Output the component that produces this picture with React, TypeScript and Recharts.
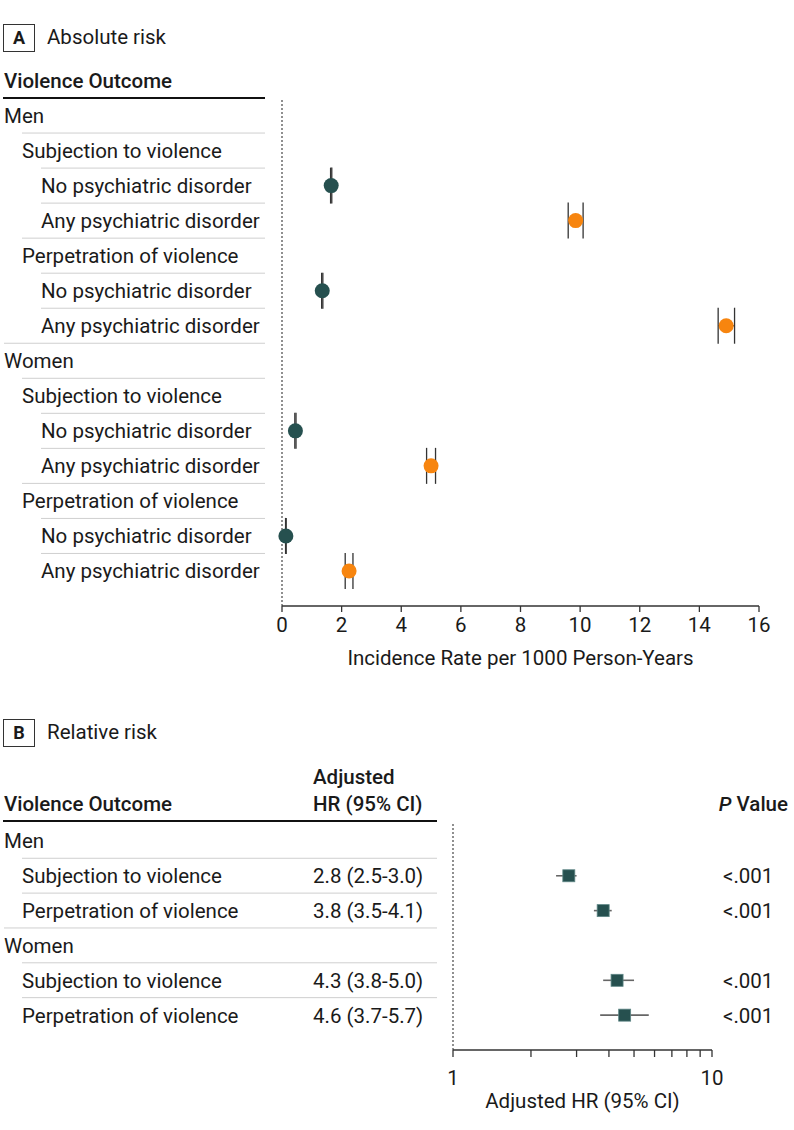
import React from "react"
import { ScatterChart, Scatter, XAxis, YAxis, ErrorBar, ReferenceLine } from "recharts"

// Panel A: absolute risk (incidence per 1000 person-years)
const outcomeLabelsA = [
  "Men",
  "Subjection to violence",
  "No psychiatric disorder",
  "Any psychiatric disorder",
  "Perpetration of violence",
  "No psychiatric disorder",
  "Any psychiatric disorder",
  "Women",
  "Subjection to violence",
  "No psychiatric disorder",
  "Any psychiatric disorder",
  "Perpetration of violence",
  "No psychiatric disorder",
  "Any psychiatric disorder",
]
const outcomeLevelsA = [0, 1, 2, 2, 1, 2, 2, 0, 1, 2, 2, 1, 2, 2]

const noDisorderRows = [2, 5, 9, 12]
const noDisorderRate = [1.65, 1.35, 0.45, 0.13]
const noDisorderLow = [1.63, 1.33, 0.43, 0.12]
const noDisorderHigh = [1.67, 1.37, 0.47, 0.14]

const anyDisorderRows = [3, 6, 10, 13]
const anyDisorderRate = [9.85, 14.9, 5.0, 2.25]
const anyDisorderLow = [9.6, 14.63, 4.85, 2.12]
const anyDisorderHigh = [10.1, 15.18, 5.15, 2.38]

const rateTicks = [0, 2, 4, 6, 8, 10, 12, 14, 16]

// Panel B: relative risk (adjusted HR)
const outcomeLabelsB = [
  "Men",
  "Subjection to violence",
  "Perpetration of violence",
  "Women",
  "Subjection to violence",
  "Perpetration of violence",
]
const outcomeLevelsB = [0, 1, 1, 0, 1, 1]
const hrRows = [1, 2, 4, 5]
const hrValues = [2.8, 3.8, 4.3, 4.6]
const hrLower = [2.5, 3.5, 3.8, 3.7]
const hrUpper = [3.0, 4.1, 5.0, 5.7]
const pValues = ["<.001", "<.001", "<.001", "<.001"]
const hrTicks = [1, 2, 3, 4, 5, 6, 7, 8, 9, 10]

const FONT = "Roboto, 'Noto Sans', sans-serif"
const FS = 20.5
const TEXT = "#1a1a1a"
const TEAL = "#26504f"
const ORANGE = "#f7850f"
const INDENT = [4, 22, 41]

const toPoints = (rows: number[], vals: number[], lo: number[], hi: number[]) =>
  rows.map((r, i) => ({ row: r, value: vals[i], err: [vals[i] - lo[i], hi[i] - vals[i]] }))

const noDisorderData = toPoints(noDisorderRows, noDisorderRate, noDisorderLow, noDisorderHigh)
const anyDisorderData = toPoints(anyDisorderRows, anyDisorderRate, anyDisorderLow, anyDisorderHigh)
const hrData = toPoints(hrRows, hrValues, hrLower, hrUpper)

function OutcomeTickA(props: any) {
  const { y, payload } = props
  const i = payload.value
  const x0 = INDENT[outcomeLevelsA[i]]
  return (
    <g>
      {i > 0 && <line x1={x0} x2={265} y1={y - 17.5} y2={y - 17.5} stroke="#cfcfcf" strokeWidth={1} />}
      <text x={x0} y={y} dy="0.36em" fontSize={FS} fill={TEXT}>
        {outcomeLabelsA[i]}
      </text>
    </g>
  )
}

function OutcomeTickB(props: any) {
  const { y, payload } = props
  const i = payload.value
  const x0 = INDENT[outcomeLevelsB[i]]
  const k = hrRows.indexOf(i)
  return (
    <g>
      {i > 0 && <line x1={x0} x2={437} y1={y - 17.5} y2={y - 17.5} stroke="#cfcfcf" strokeWidth={1} />}
      <text x={x0} y={y} dy="0.36em" fontSize={FS} fill={TEXT}>
        {outcomeLabelsB[i]}
      </text>
      {k >= 0 && (
        <text x={313} y={y} dy="0.36em" fontSize={FS} fill={TEXT}>
          {`${hrValues[k].toFixed(1)} (${hrLower[k].toFixed(1)}-${hrUpper[k].toFixed(1)})`}
        </text>
      )}
      {k >= 0 && (
        <text x={723} y={y} dy="0.36em" fontSize={FS} fill={TEXT}>
          {pValues[k]}
        </text>
      )}
    </g>
  )
}

const dot = (color: string) => (p: any) => <circle cx={p.cx} cy={p.cy} r={7.5} fill={color} />
const square = (p: any) => (
  <rect x={p.cx - 6} y={p.cy - 6} width={12} height={12} fill={TEAL} stroke="#5f8786" strokeWidth={0.8} />
)

function PanelTag({ letter, title, top }: { letter: string; title: string; top: number }) {
  return (
    <>
      <div
        style={{
          position: "absolute",
          left: 3,
          top,
          width: 30,
          height: 26,
          border: "1px solid #333",
          fontWeight: 700,
          fontSize: 18,
          lineHeight: "26px",
          textAlign: "center",
        }}
      >
        {letter}
      </div>
      <div style={{ position: "absolute", left: 47, top: top - 1, fontSize: 20.5, lineHeight: "28px" }}>{title}</div>
    </>
  )
}

const abs = (left: number, top: number, extra: React.CSSProperties = {}): React.CSSProperties => ({
  position: "absolute",
  left,
  top,
  fontSize: FS,
  lineHeight: "24px",
  whiteSpace: "nowrap",
  ...extra,
})

export default function App() {
  return (
    <div
      style={{
        position: "absolute",
        left: 0,
        top: 0,
        width: 794,
        height: 1130,
        background: "#fff",
        fontFamily: FONT,
        color: TEXT,
        overflow: "hidden",
      }}
    >
      <PanelTag letter="A" title="Absolute risk" top={24} />
      <div style={abs(4, 69, { fontWeight: 500 })}>Violence Outcome</div>
      <div style={{ position: "absolute", left: 3, top: 97, width: 262, height: 2, background: "#111" }} />

      <div style={{ position: "absolute", left: 0, top: 0 }}>
        <ScatterChart width={794} height={700} margin={{ top: 98, right: 35, bottom: 0, left: 0 }}>
          <XAxis
            type="number"
            dataKey="value"
            domain={[0, 16]}
            ticks={rateTicks}
            interval={0}
            height={94}
            tickSize={6}
            tickMargin={5}
            tick={{ fontSize: FS, fill: TEXT }}
            axisLine={{ stroke: "#333", strokeWidth: 1.3 }}
            tickLine={{ stroke: "#333", strokeWidth: 1.3 }}
            label={{
              value: "Incidence Rate per 1000 Person-Years",
              position: "insideTop",
              offset: 44,
              fontSize: FS,
              fill: TEXT,
            }}
          />
          <YAxis
            type="number"
            dataKey="row"
            domain={[-0.5, 14]}
            reversed
            ticks={outcomeLabelsA.map((_, i) => i)}
            interval={0}
            width={282}
            axisLine={false}
            tickLine={false}
            tick={<OutcomeTickA />}
          />
          <ReferenceLine x={0} stroke="#555" strokeDasharray="2 2" strokeWidth={1.3} />
          <Scatter data={noDisorderData} shape={dot(TEAL)} isAnimationActive={false}>
            <ErrorBar dataKey="err" direction="x" width={18} stroke="#333" strokeWidth={1.3} />
          </Scatter>
          <Scatter data={anyDisorderData} shape={dot(ORANGE)} isAnimationActive={false}>
            <ErrorBar dataKey="err" direction="x" width={18} stroke="#333" strokeWidth={1.3} />
          </Scatter>
        </ScatterChart>
      </div>

      <PanelTag letter="B" title="Relative risk" top={719} />
      <div style={abs(313, 765, { fontWeight: 500 })}>Adjusted</div>
      <div style={abs(4, 792, { fontWeight: 500 })}>Violence Outcome</div>
      <div style={abs(313, 792, { fontWeight: 500 })}>HR (95% CI)</div>
      <div style={{ ...abs(0, 792, { fontWeight: 500 }), left: undefined, right: 6, textAlign: "right" }}>
        <span style={{ fontStyle: "italic" }}>P</span> Value
      </div>
      <div style={{ position: "absolute", left: 3, top: 820, width: 434, height: 2, background: "#111" }} />

      <div style={{ position: "absolute", left: 0, top: 720 }}>
        <ScatterChart width={794} height={410} margin={{ top: 103.5, right: 82, bottom: 0, left: 0 }}>
          <XAxis
            type="number"
            dataKey="value"
            scale="log"
            domain={[1, 10]}
            ticks={hrTicks}
            interval={0}
            allowDataOverflow
            height={80}
            tickSize={7}
            tickMargin={13}
            tickFormatter={(v: number) => (v === 1 || v === 10 ? String(v) : "")}
            tick={{ fontSize: FS, fill: TEXT }}
            axisLine={{ stroke: "#333", strokeWidth: 1.3 }}
            tickLine={{ stroke: "#333", strokeWidth: 1.3 }}
            label={{ value: "Adjusted HR (95% CI)", position: "insideTop", offset: 43, fontSize: FS, fill: TEXT }}
          />
          <YAxis
            type="number"
            dataKey="row"
            domain={[-0.5, 6]}
            reversed
            ticks={outcomeLabelsB.map((_, i) => i)}
            interval={0}
            width={453}
            axisLine={false}
            tickLine={false}
            tick={<OutcomeTickB />}
          />
          <ReferenceLine x={1} stroke="#555" strokeDasharray="2 2" strokeWidth={1.3} />
          <Scatter data={hrData} shape={square} isAnimationActive={false}>
            <ErrorBar dataKey="err" direction="x" width={0} stroke="#666" strokeWidth={1.6} />
          </Scatter>
        </ScatterChart>
      </div>
    </div>
  )
}
